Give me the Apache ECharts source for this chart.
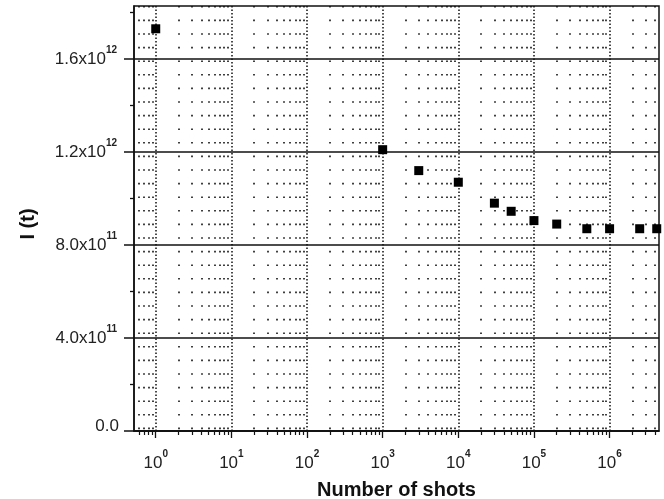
<!DOCTYPE html>
<html>
<head>
<meta charset="utf-8">
<title>I(t) vs number of shots</title>
<script src="https://cdn.jsdelivr.net/npm/echarts@6/dist/echarts.min.js"></script>
<style>
  html, body { margin: 0; padding: 0; background: #fff; }
  #chart { width: 664px; height: 499px; }
</style>
</head>
<body>
<div id="chart"></div>
<script>
// data
const shots = [1, 1000, 3000, 10000, 30000, 50000, 100000, 200000, 500000, 1000000, 2500000, 4200000];
const intensity = [1.73e12, 1.21e12, 1.12e12, 1.07e12, 0.98e12, 0.945e12, 0.905e12, 0.89e12, 0.87e12, 0.87e12, 0.87e12, 0.87e12];

// axes
const xTicks = [1, 10, 100, 1000, 10000, 100000, 1000000];
const yTicks = [0, 4e11, 8e11, 1.2e12, 1.6e12];
const yMinorTicks = [2e11, 6e11, 1e12, 1.4e12, 1.8e12];
const xRange = [0.516, 4.5e6];
const yRange = [0, 1.828e12];

const font = '"Liberation Sans", Arial, sans-serif';
const ink = '#111';

const points = shots.map((s, i) => [s, intensity[i]]);

// 10^n style labels
const xLabel = v => '{b|10}{s|' + Math.round(Math.log10(v)) + '}';
const yLabel = v => {
  if (v === 0) return '{z|0.0}';
  const e = Math.floor(Math.log10(v) + 1e-9);
  return '{b|' + (v / Math.pow(10, e)).toFixed(1) + 'x10}{s|' + e + '}';
};

const chart = echarts.init(document.getElementById('chart'));
chart.setOption({
  animation: false,
  backgroundColor: '#fff',
  textStyle: { fontFamily: font },
  grid: {
    left: 134, right: 5, top: 6, bottom: 68,
    outerBoundsMode: 'none',
    containLabel: false,
    show: true, borderColor: ink, borderWidth: 1.5, backgroundColor: 'transparent'
  },
  xAxis: {
    type: 'log',
    logBase: 10,
    min: xRange[0],
    max: xRange[1],
    name: 'Number of shots',
    nameLocation: 'middle',
    nameGap: 49,
    nameTextStyle: { fontSize: 20, fontWeight: 'bold', color: ink, fontFamily: font },
    axisLine: { show: true, lineStyle: { color: ink, width: 1.5 } },
    axisTick: { show: true, inside: false, length: 7, customValues: xTicks, lineStyle: { color: ink, width: 1.3 } },
    minorTick: { show: true, splitNumber: 9, length: 4, lineStyle: { color: ink, width: 1.2 } },
    axisLabel: {
      customValues: xTicks,
      margin: 18,
      formatter: xLabel,
      rich: {
        b: { fontSize: 17, lineHeight: 28, color: '#222', fontFamily: font },
        s: { fontSize: 10, lineHeight: 10, fontWeight: 'bold', verticalAlign: 'top', color: '#222', fontFamily: font }
      }
    },
    splitLine: { show: true, lineStyle: { color: ink, width: 1.5, type: [1.5, 2] } },
    minorSplitLine: { show: true, lineStyle: { color: ink, width: 1.6, type: [1.6, 12] } }
  },
  yAxis: [{
    type: 'value',
    min: yRange[0],
    max: yRange[1],
    interval: 4e11,
    name: 'I (t)',
    nameLocation: 'middle',
    nameRotate: 90,
    nameGap: 96,
    nameTextStyle: { fontSize: 20, fontWeight: 'bold', color: ink, fontFamily: font, padding: [0, 11, 0, 0] },
    axisLine: { show: true, lineStyle: { color: ink, width: 1.5 } },
    axisTick: { show: true, inside: false, length: 10, customValues: yTicks, lineStyle: { color: ink, width: 1.5 } },
    axisLabel: {
      customValues: yTicks,
      margin: 15,
      formatter: yLabel,
      rich: {
        b: { fontSize: 17, lineHeight: 28, color: '#222', fontFamily: font },
        s: { fontSize: 10, lineHeight: 10, fontWeight: 'bold', verticalAlign: 'top', color: '#222', fontFamily: font, padding: [0, 2, 0, 0] },
        z: { fontSize: 17, lineHeight: 22, padding: [0, 0, 10, 0], color: '#222', fontFamily: font }
      }
    },
    splitLine: { show: true, lineStyle: { color: ink, width: 1.5, type: 'solid' } }
  }, {
    // minor ticks only
    type: 'value',
    position: 'left',
    min: yRange[0],
    max: yRange[1],
    axisLine: { show: false },
    axisLabel: { show: false },
    splitLine: { show: false },
    axisTick: { show: true, inside: false, length: 4, customValues: yMinorTicks, lineStyle: { color: ink, width: 1.3 } }
  }],
  series: [{
    type: 'scatter',
    yAxisIndex: 0,
    data: points,
    symbol: 'rect',
    symbolSize: 9,
    clip: false,
    itemStyle: { color: '#000', opacity: 1 }
  }]
});
</script>
</body>
</html>
